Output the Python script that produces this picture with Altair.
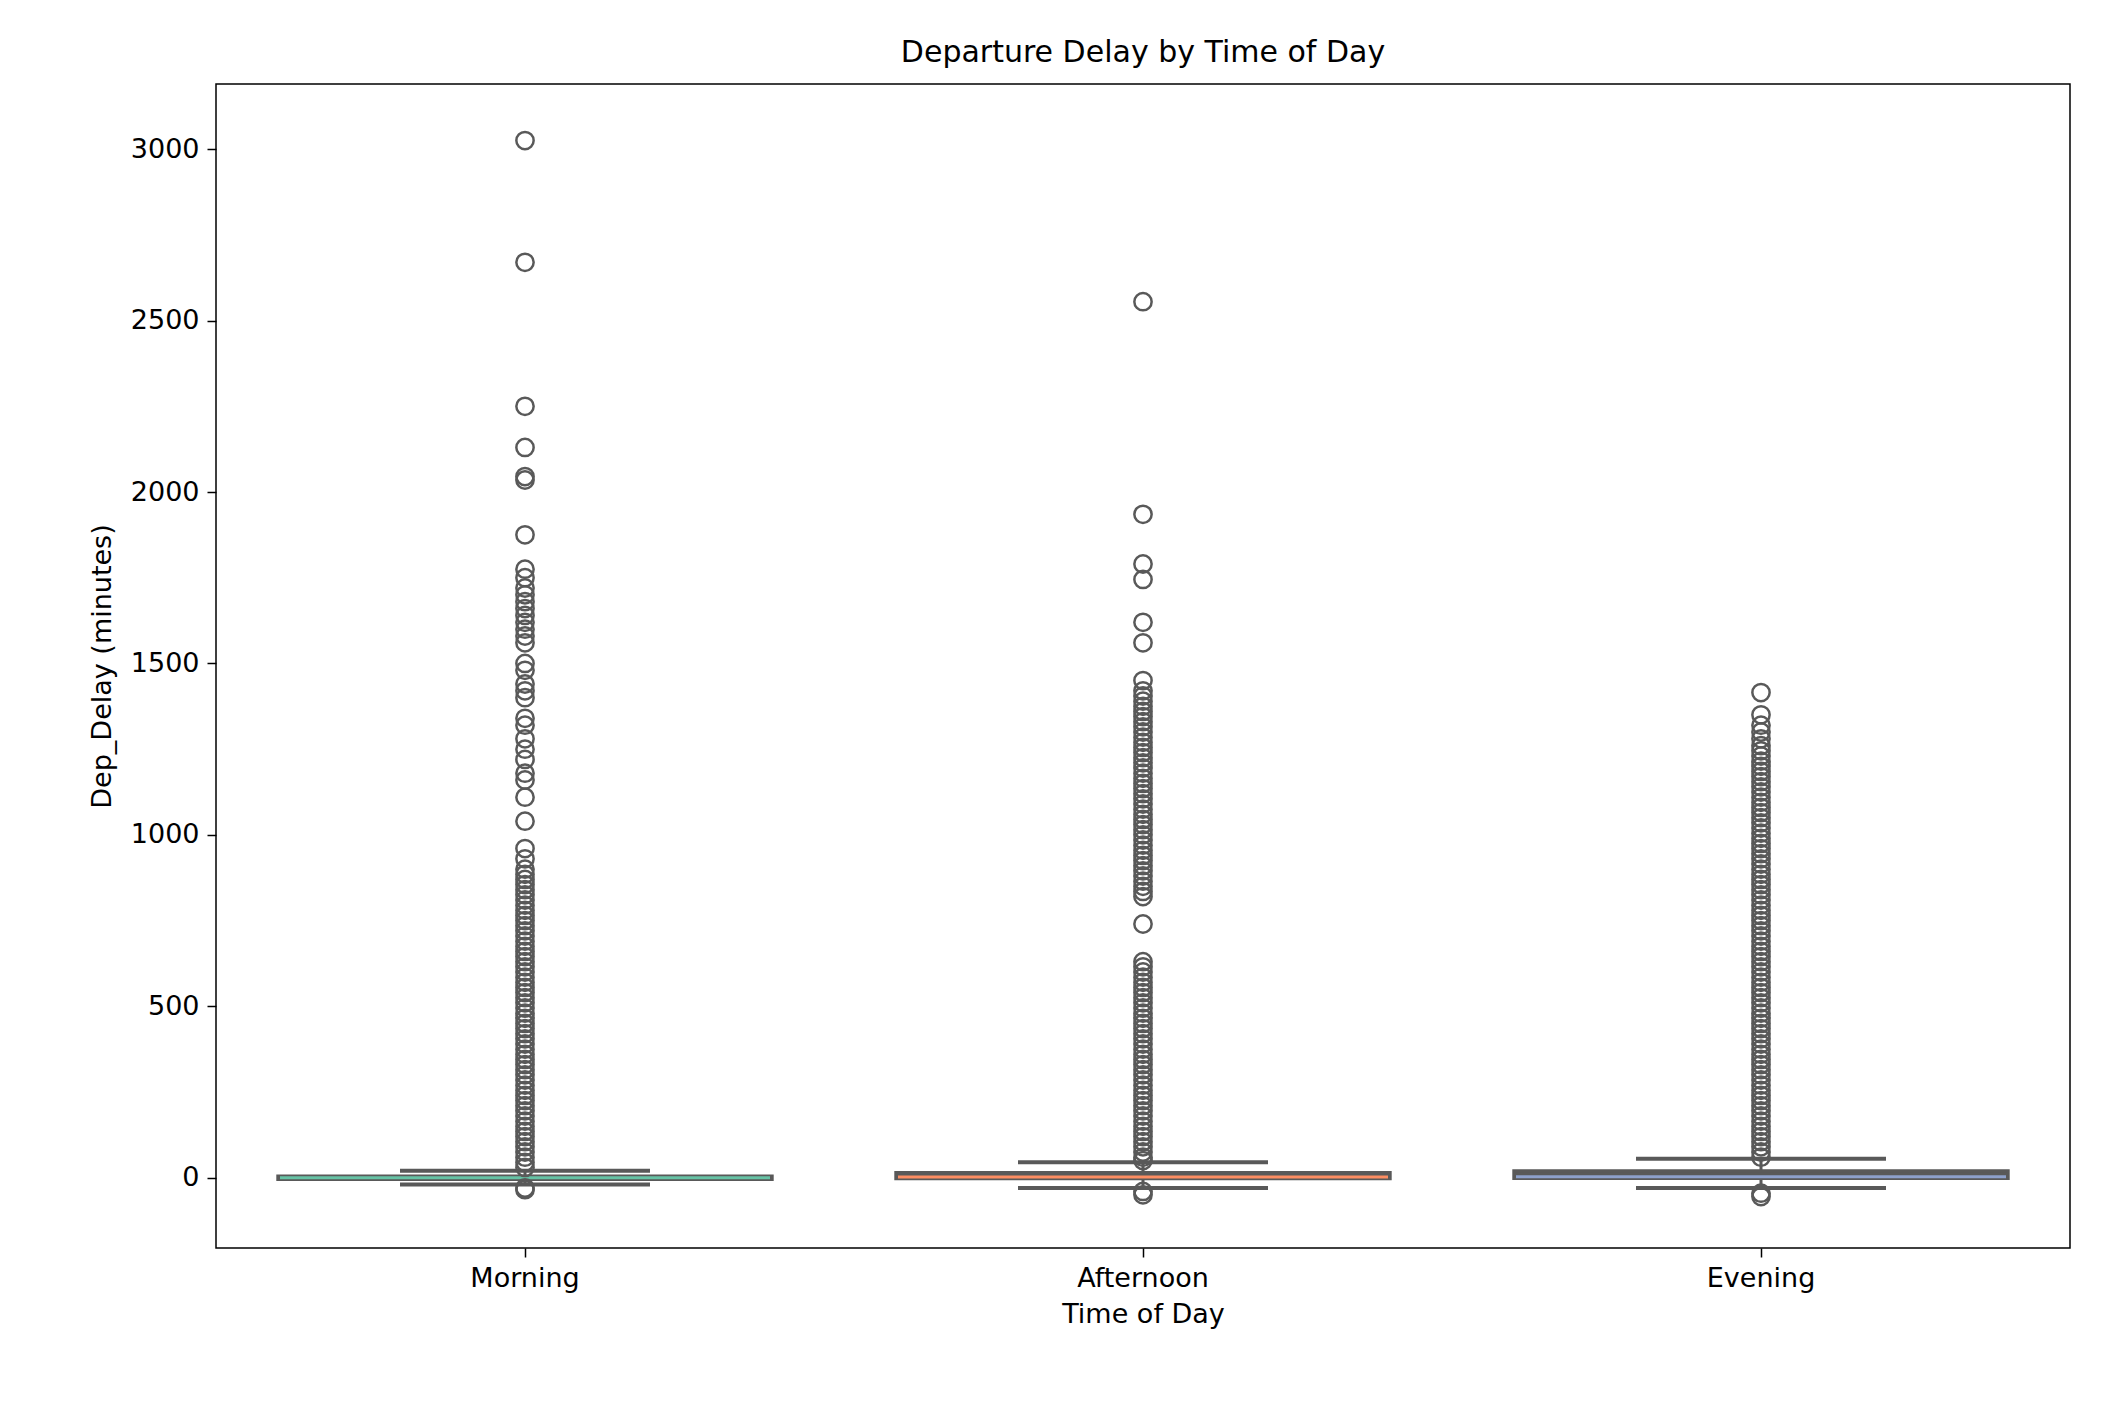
import altair as alt
import pandas as pd

groups = ["Morning", "Afternoon", "Evening"]
median_colors = ["#66c2a5", "#fc8d62", "#8da0cb"]
q1 = [-5, -3, -2]
median = [0, 2, 3]
q3 = [5, 15, 20]
whisker_low = [-20, -30, -30]
whisker_high = [20, 45, 55]

outliers_morning = [
    3025, 2670, 2250, 2130, 2045, 2035, 1875, 1775, 1750, 1720, 1700, 1680,
    1660, 1640, 1620, 1600, 1580, 1560, 1500, 1480, 1440, 1420, 1400, 1340,
    1320, 1280, 1250, 1220, 1180, 1160, 1110, 1040, 960, 930, 900, 885, 870,
    855, 840, 825, 810, 795, 780, 765, 750, 735, 720, 705, 690, 675, 660, 645,
    630, 615, 600, 585, 570, 555, 540, 525, 510, 495, 480, 465, 450, 435, 420,
    405, 390, 375, 360, 345, 330, 315, 300, 285, 270, 255, 240, 225, 210, 195,
    180, 165, 150, 135, 120, 105, 90, 75, 60, 45, 30, -30, -35,
]
outliers_afternoon = [
    2555, 1935, 1790, 1745, 1620, 1560, 1450, 1420, 1405, 1390, 1375, 1360,
    1345, 1330, 1315, 1300, 1285, 1270, 1255, 1240, 1225, 1210, 1195, 1180,
    1165, 1150, 1135, 1120, 1105, 1090, 1075, 1060, 1045, 1030, 1015, 1000,
    985, 970, 955, 940, 925, 910, 895, 880, 865, 850, 835, 820, 740, 630, 615,
    600, 585, 570, 555, 540, 525, 510, 495, 480, 465, 450, 435, 420, 405, 390,
    375, 360, 345, 330, 315, 300, 285, 270, 255, 240, 225, 210, 195, 180, 165,
    150, 135, 120, 105, 90, 75, 60, 50, -40, -50,
]
outliers_evening = [
    1415, 1350, 1320, 1300, 1280, 1260, 1245, 1230, 1215, 1200, 1185, 1170,
    1155, 1140, 1125, 1110, 1095, 1080, 1065, 1050, 1035, 1020, 1005, 990, 975,
    960, 945, 930, 915, 900, 885, 870, 855, 840, 825, 810, 795, 780, 765, 750,
    735, 720, 705, 690, 675, 660, 645, 630, 615, 600, 585, 570, 555, 540, 525,
    510, 495, 480, 465, 450, 435, 420, 405, 390, 375, 360, 345, 330, 315, 300,
    285, 270, 255, 240, 225, 210, 195, 180, 165, 150, 135, 120, 105, 90, 75,
    60, -45, -55,
]

boxes = pd.DataFrame({
    "group": groups, "q1": q1, "median": median, "q3": q3,
    "lo": whisker_low, "hi": whisker_high, "mcolor": median_colors,
})
points = pd.DataFrame({
    "group": ["Morning"] * len(outliers_morning)
    + ["Afternoon"] * len(outliers_afternoon)
    + ["Evening"] * len(outliers_evening),
    "value": outliers_morning + outliers_afternoon + outliers_evening,
})

gray = "#595959"
x = alt.X("group:N", sort=groups, title="Time of Day",
          scale=alt.Scale(paddingInner=0, paddingOuter=0),
          axis=alt.Axis(labelAngle=0, labelFontSize=27, titleFontSize=27,
                        titleFontWeight="normal", labelColor="black",
                        titleColor="black", tickColor="black", domain=False,
                        tickSize=9, tickWidth=1.5, labelPadding=8, titlePadding=10))
yscale = alt.Scale(domain=[-205, 3190], nice=False, zero=False)
y_axis = alt.Axis(values=[0, 500, 1000, 1500, 2000, 2500, 3000], grid=False,
                  format="d", labelFontSize=27, titleFontSize=27,
                  titleFontWeight="normal", labelColor="black",
                  titleColor="black", tickColor="black", domain=False,
                  tickSize=9, tickWidth=1.5, labelPadding=8, titlePadding=14)

base = alt.Chart(boxes)
whisk = base.mark_rule(color=gray, strokeWidth=3).encode(
    x=x, y=alt.Y("lo:Q", scale=yscale, axis=y_axis, title="Dep_Delay (minutes)"),
    y2="hi:Q")
caps_lo = base.mark_tick(color=gray, thickness=4, size=250, opacity=1).encode(
    x=x, y=alt.Y("lo:Q", scale=yscale))
caps_hi = base.mark_tick(color=gray, thickness=4, size=250, opacity=1).encode(
    x=x, y=alt.Y("hi:Q", scale=yscale))
box = base.mark_bar(width=alt.RelativeBandSize(0.8), color=gray, opacity=1,
                    stroke=gray, strokeWidth=3).encode(
    x=x, y=alt.Y("q1:Q", scale=yscale), y2="q3:Q")
med = base.mark_tick(thickness=3, size=490, opacity=1).encode(
    x=x, y=alt.Y("median:Q", scale=yscale),
    color=alt.Color("mcolor:N", scale=None))
outl = alt.Chart(points).mark_point(
    shape="circle", filled=False, color=gray, strokeWidth=2.5, size=300,
    opacity=1).encode(x=x, y=alt.Y("value:Q", scale=yscale))

chart = (
    alt.layer(whisk, caps_lo, caps_hi, box, med, outl)
    .properties(
        width=1854, height=1164,
        padding={"left": 80, "top": 30, "right": 20, "bottom": 20},
        title=alt.Title("Departure Delay by Time of Day", fontSize=30,
                        fontWeight="normal", color="black", offset=16),
    )
    .configure(font="DejaVu Sans")
    .configure_view(stroke="black", strokeWidth=1.5)
)
chart.save("out.html", embed_options={"renderer": "svg", "actions": False})
